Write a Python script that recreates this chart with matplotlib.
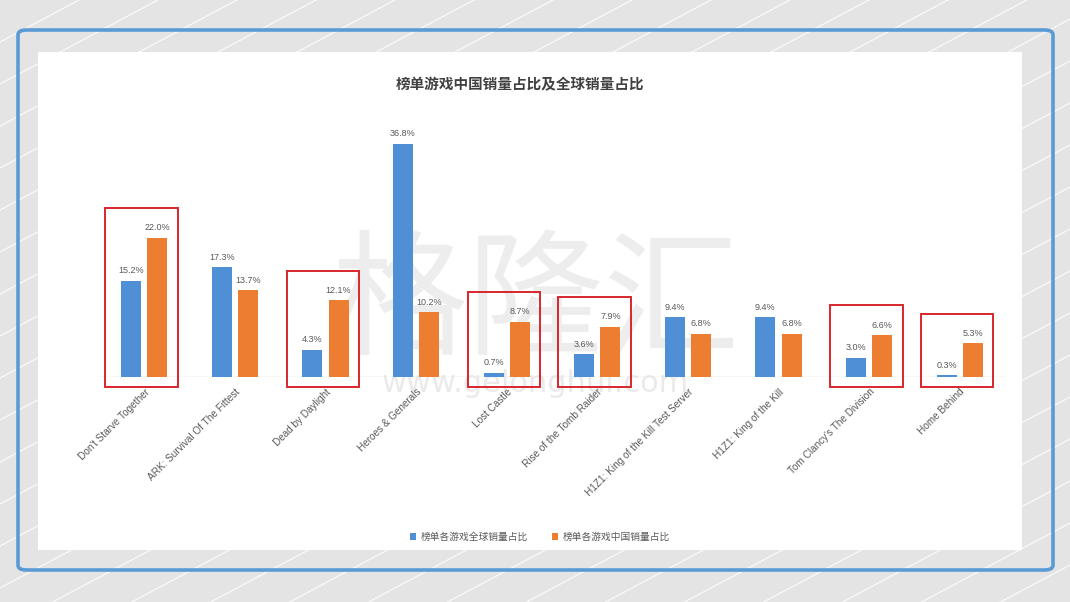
import numpy as np
import matplotlib
matplotlib.use('Agg')
import matplotlib.pyplot as plt
from matplotlib.patches import FancyBboxPatch, Rectangle
from matplotlib.lines import Line2D

# ── data ────────────────────────────────────────────────
games = ["Don't Starve Together", "ARK: Survival Of The Fittest", "Dead by Daylight",
         "Heroes & Generals", "Lost Castle", "Rise of the Tomb Raider",
         "H1Z1: King of the Kill Test Server", "H1Z1: King of the Kill",
         "Tom Clancy's The Division", "Home Behind"]
global_share = [15.2, 17.3, 4.3, 36.8, 0.7, 3.6, 9.4, 9.4, 3.0, 0.3]
china_share = [22.0, 13.7, 12.1, 10.2, 8.7, 7.9, 6.8, 6.8, 6.6, 5.3]
highlighted = [0, 2, 4, 5, 8, 9]

CJK = ['Noto Sans CJK SC', 'DejaVu Sans']
BLUE = '#4f8fd6'
ORANGE = '#ed7d31'
TXT = '#595959'

W, H = 1070, 602
fig = plt.figure(figsize=(W / 100, H / 100), dpi=100)
fig.patch.set_facecolor('#e4e4e4')

def fx(px):
    return px / W

def fy(py):
    return 1 - py / H

# diagonal stripes in the page background
slope = np.tan(np.radians(28))
for c in np.arange(-700, 1200, 42):
    xs = np.array([0, W])
    ys = H - (slope * xs + c)
    fig.add_artist(Line2D(fx(xs), 1 - ys / H, color='white', lw=0.9, alpha=0.8, zorder=0))

# blue rounded frame
frame = FancyBboxPatch((fx(18), fy(570)), fx(1035), (570 - 30) / H,
                       boxstyle='round,pad=0,rounding_size=0.008',
                       transform=fig.transFigure, facecolor='none',
                       edgecolor='#5b9bd5', lw=2.6, zorder=1)
fig.add_artist(frame)

# white chart panel
panel = Rectangle((fx(38), fy(550)), fx(984), (550 - 52) / H,
                  transform=fig.transFigure, facecolor='white', edgecolor='none', zorder=1)
fig.add_artist(panel)

ax = fig.add_axes([fx(99), fy(377), fx(1005 - 99), (377 - 120) / H], zorder=3)
ax.set_facecolor('none')

x = np.arange(len(games))
bw = 0.22
off = 0.145
b1 = ax.bar(x - off, global_share, bw, color=BLUE, label='榜单各游戏全球销量占比', zorder=3)
b2 = ax.bar(x + off, china_share, bw, color=ORANGE, label='榜单各游戏中国销量占比', zorder=3)

for bars in (b1, b2):
    for r in bars:
        ax.annotate(f'{r.get_height():.1f}%', (r.get_x() + r.get_width() / 2, r.get_height()),
                    xytext=(0, 4), textcoords='offset points', ha='center', va='bottom',
                    fontsize=6.5, color=TXT, family='Liberation Sans')

# red highlight boxes
for i in highlighted:
    top = max(global_share[i], china_share[i]) + 4.7
    ax.add_patch(Rectangle((i - 0.43, -1.6), 0.80, top + 1.6, fill=False,
                           edgecolor='#d8262c', lw=1.4, clip_on=False, zorder=4))

ax.set_xlim(-0.5, len(games) - 0.5)
ax.set_ylim(0, 40.6)
ax.axhline(0, color='#d9d9d9', lw=1, zorder=2)
for s in ax.spines.values():
    s.set_visible(False)
ax.set_yticks([])
ax.set_xticks(x)
ax.set_xticklabels(games, rotation=45, ha='right', rotation_mode='anchor',
                   fontsize=7.2, color=TXT, family='Liberation Sans')
ax.tick_params(axis='x', length=0, pad=7)

leg = fig.legend(loc='center', bbox_to_anchor=(fx(540), fy(537)), ncol=2, frameon=False,
                 handlelength=0.6, handleheight=0.6, columnspacing=2.5,
                 handletextpad=0.5, prop={'family': CJK, 'size': 7})
for t in leg.get_texts():
    t.set_color(TXT)

fig.text(fx(520), fy(84), '榜单游戏中国销量占比及全球销量占比', ha='center', va='center',
         fontsize=10.5, fontweight='bold', color='#404040', family=CJK, zorder=5)

# watermark
fig.text(fx(535), fy(305), '格隆汇', ha='center', va='center', fontsize=98,
         color='#cccccc', alpha=0.35, family=CJK, zorder=2)
fig.text(fx(535), fy(384), 'www.gelonghui.com', ha='center', va='center', fontsize=22,
         color='#cccccc', alpha=0.4, family='DejaVu Sans', zorder=2)

fig.savefig('out.png', dpi=100)
